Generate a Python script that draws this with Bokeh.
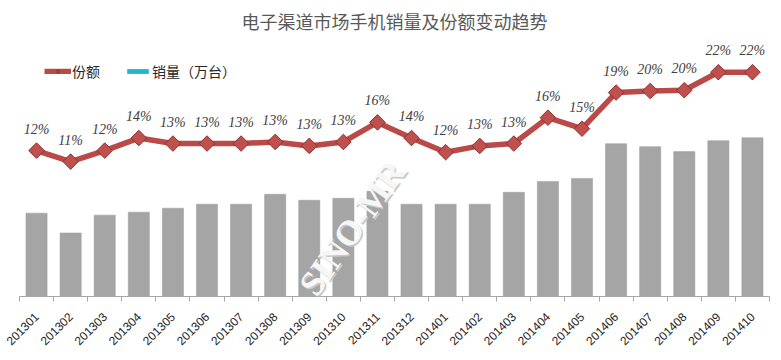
import numpy as np
from bokeh.plotting import figure
from bokeh.models import (Range1d, FixedTicker, ColumnDataSource, LabelSet,
                          Label, Legend, LegendItem)
from bokeh.embed import file_html
from bokeh.resources import INLINE

months = ["201301", "201302", "201303", "201304", "201305", "201306", "201307", "201308",
          "201309", "201310", "201311", "201312", "201401", "201402", "201403", "201404",
          "201405", "201406", "201407", "201408", "201409", "201410"]
sales = [420, 320, 410, 425, 445, 465, 465, 515, 485, 495, 530, 465,
         465, 465, 525, 580, 595, 770, 755, 730, 785, 800]
share = [12.0, 10.6, 12.0, 13.6, 12.9, 12.9, 12.9, 13.1, 12.6, 13.1, 15.6, 13.6,
         11.8, 12.6, 12.9, 16.2, 14.8, 19.4, 19.6, 19.7, 22.0, 22.0]
title_text = "电子渠道市场手机销量及份额变动趋势"
share_name = "份额"
sales_name = "销量（万台）"
watermark = "SINO-MR"

xs = np.arange(len(months))
src = ColumnDataSource(dict(x=xs, sales=sales, share=share,
                            lab=[f"{round(v)}%" for v in share]))

p = figure(width=772, height=352, output_backend="svg", toolbar_location=None,
           x_range=Range1d(-0.5, len(months) - 0.5), y_range=Range1d(0, 1300),
           y_axis_location=None, x_axis_location="below",
           min_border_left=19, min_border_right=3, min_border_bottom=55, min_border_top=0)
p.extra_y_ranges = {"share": Range1d(-6.61, 26.30)}

p.title.text = title_text
p.title.align = "center"
p.title.text_font = "Noto Sans CJK SC"
p.title.text_font_size = "18px"
p.title.text_font_style = "normal"
p.title.text_color = "#595959"

p.grid.visible = False
p.outline_line_color = None
p.background_fill_color = "white"

ax = p.xaxis[0]
ax.ticker = FixedTicker(ticks=list(xs), minor_ticks=list(xs[:-1] + 0.5) + [-0.5, len(months) - 0.5])
ax.major_label_overrides = {int(i): m for i, m in zip(xs, months)}
ax.major_label_orientation = np.pi / 4
ax.major_label_text_font = "Liberation Sans"
ax.major_label_text_font_size = "12px"
ax.major_label_text_color = "#262626"
ax.major_tick_line_color = None
ax.minor_tick_in = 0
ax.minor_tick_out = 5
ax.minor_tick_line_color = "#a6a6a6"
ax.axis_line_color = "#a6a6a6"
ax.major_label_standoff = 12

bars = p.vbar(x="x", top="sales", width=0.62, source=src, fill_color="#a5a5a5",
              line_color="#9a9a9a", line_width=0.5)

# watermark
p.add_layout(Label(x=9.27, y=345, text=watermark, angle=0.95, text_align="center",
                   text_baseline="middle", text_font="Liberation Serif", text_font_style="bold",
                   text_font_size="35px", text_color="#c8c8c8", x_offset=1.5, y_offset=-1.5))
p.add_layout(Label(x=9.27, y=345, text=watermark, angle=0.95, text_align="center",
                   text_baseline="middle", text_font="Liberation Serif", text_font_style="bold",
                   text_font_size="35px", text_color="#f6f6f6"))

ln = p.line("x", "share", source=src, y_range_name="share", line_color="#b94a47",
            line_width=5.5, line_join="round")
mk = p.scatter("x", "share", source=src, y_range_name="share", marker="square", angle=np.pi / 4,
               size=11, fill_color="#c0504d", line_color="#8c3330", line_width=1)

p.add_layout(LabelSet(x="x", y="share", text="lab", source=src, y_range_name="share",
                      text_align="center", text_baseline="bottom", y_offset=14,
                      text_font="Noto Sans", text_font_style="italic", text_font_size="14px",
                      text_color="#404040"))

dummy = p.vbar(x=xs[:1], top=[0], width=0.0, fill_color="#23b4cf", line_color=None)

legend = Legend(items=[LegendItem(label=share_name, renderers=[ln, mk]),
                       LegendItem(label=sales_name, renderers=[dummy])],
                orientation="horizontal", location=(25, 215),
                label_text_font="Noto Sans CJK SC", label_text_font_size="14px",
                label_text_color="#262626", background_fill_alpha=0, border_line_color=None,
                glyph_width=27, glyph_height=6, spacing=24, margin=0, padding=4,
                label_standoff=1)
p.add_layout(legend)

open("out.html", "w").write(file_html(p, INLINE))
